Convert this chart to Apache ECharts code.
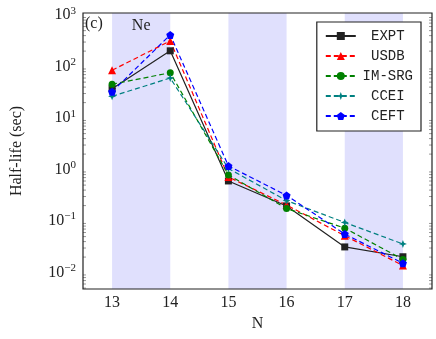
<!DOCTYPE html>
<html>
<head>
<meta charset="utf-8">
<script src="https://cdn.jsdelivr.net/npm/echarts@6/dist/echarts.min.js"></script>
<style>html,body{margin:0;padding:0;background:#fff}#c{width:436px;height:339px}</style>
</head>
<body>
<div id="c"></div>
<script>
// ---- data ----
var categories = ['13', '14', '15', '16', '17', '18'];
var expt  = [37.24, 202.8, 0.602, 0.197, 0.0315, 0.0203];
var usdb  = [85, 316, 0.72, 0.205, 0.052, 0.0137];
var imsrg = [45.5, 76, 0.79, 0.175, 0.073, 0.018];
var ccei  = [26.5, 60, 1.05, 0.25, 0.094, 0.036];
var ceft  = [32.5, 413, 1.18, 0.315, 0.056, 0.0152];
var seriesNames = ['EXPT', 'USDB', 'IM-SRG', 'CCEI', 'CEFT'];
var bands = [['13', '14', 'Ne'], ['15', '16', ''], ['17', '18', '']];
var yMin = 0.0048, yMax = 1100;

var minorVals = [];
for (var e = -3; e <= 3; e++) {
  for (var m = 2; m <= 9; m++) {
    var v = m * Math.pow(10, e);
    if (v > yMin && v < yMax) minorVals.push(v);
  }
}

function fmtY(v) {
  var ex = Math.round(Math.log10(v));
  if (Math.abs(Math.log10(v) - ex) > 1e-6) return '';
  var s = String(ex).replace('-', '\u2212');
  return '{b|10}{s|' + s + '}';
}

var serif = 'Liberation Serif';
var mono = 'Liberation Mono';
var pentagon = 'path://M50 0 L97.6 34.5 L79.4 90.5 L20.6 90.5 L2.4 34.5 Z';
var star4 = 'path://M50 0 L64 36 L100 50 L64 64 L50 100 L36 64 L0 50 L36 36 Z';

function lineSeries(name, data, color, symbol, size, dashed) {
  return {
    name: name, type: 'line', data: data, symbol: symbol, symbolSize: size,
    showAllSymbol: true,
    lineStyle: { color: color, width: 1.2, type: dashed ? [5, 3] : 'solid' },
    itemStyle: { color: color },
    emphasis: { disabled: true }, animation: false, z: 5
  };
}

var chart = echarts.init(document.getElementById('c'));
var option = {
  animation: false,
  grid: { left: 83, right: 4, top: 13, bottom: 50, show: true, borderColor: '#222', borderWidth: 1.2, backgroundColor: 'transparent', z: 10 },
  xAxis: [{
    type: 'category', data: categories, boundaryGap: true,
    name: 'N', nameLocation: 'middle', nameGap: 26,
    nameTextStyle: { fontFamily: serif, fontSize: 16, color: '#222' },
    axisLine: { show: false },
    axisTick: { inside: true, alignWithLabel: true, length: 5, lineStyle: { color: '#999' } },
    axisLabel: { fontFamily: serif, fontSize: 16, color: '#222', margin: 6 },
    splitLine: { show: false }
  }, {
    type: 'category', data: categories, boundaryGap: true, position: 'top',
    axisLine: { show: false },
    axisTick: { inside: true, alignWithLabel: true, length: 5, lineStyle: { color: '#999' } },
    axisLabel: { show: false }, splitLine: { show: false }
  }],
  yAxis: [{
    type: 'log', min: yMin, max: yMax, logBase: 10,
    name: 'Half-life (sec)', nameLocation: 'middle', nameGap: 58,
    nameTextStyle: { fontFamily: serif, fontSize: 16, color: '#222' },
    axisLine: { show: false },
    axisTick: { inside: true, length: 5, lineStyle: { color: '#777' } },
    axisLabel: {
      formatter: fmtY, margin: 7, showMinLabel: false, showMaxLabel: false,
      rich: {
        b: { fontFamily: serif, fontSize: 16, color: '#222' },
        s: { fontFamily: serif, fontSize: 11, color: '#222', verticalAlign: 'top', padding: [0, 0, 9, 0] }
      }
    },
    splitLine: { show: false }, minorTick: { show: false }
  }, {
    type: 'log', min: yMin, max: yMax, logBase: 10, position: 'right',
    axisLine: { show: false },
    axisTick: { inside: true, length: 5, lineStyle: { color: '#777' } },
    axisLabel: { show: false }, splitLine: { show: false }
  }],
  legend: {
    orient: 'vertical', right: 15, top: 22,
    data: seriesNames,
    backgroundColor: '#fff', borderColor: '#222', borderWidth: 1.2,
    padding: [7, 8, 8, 8], itemGap: 6, itemWidth: 30, itemHeight: 10,
    formatter: function (n) { return '{a|' + n + '}'; },
    textStyle: { rich: { a: { fontFamily: mono, fontSize: 14, color: '#222', width: 54, align: 'center', height: 16 } } },
    selectedMode: false, z: 20
  },
  graphic: [{
    type: 'text', left: 85, top: 16, z: 20,
    style: { text: '(c)', fontFamily: serif, fontSize: 16, fill: '#222' }
  }],
  series: [
    {
      type: 'line', data: [], silent: true, z: 1,
      markArea: {
        silent: true,
        itemStyle: { color: '#e0e0fd' },
        label: { show: true, position: 'insideTop', distance: 5, fontFamily: serif, fontSize: 16, color: '#222' },
        data: bands.map(function (b) { return [{ xAxis: b[0], name: b[2] }, { xAxis: b[1] }]; })
      }
    },
    {
      type: 'custom', silent: true, z: 8,
      data: minorVals.map(function (v) { return [0, v]; }),
      renderItem: function (params, api) {
        var cs = params.coordSys;
        var y = api.coord([0, api.value(1)])[1];
        var st = { stroke: '#999', lineWidth: 1 };
        return { type: 'group', children: [
          { type: 'line', shape: { x1: cs.x, y1: y, x2: cs.x + 3, y2: y }, style: st },
          { type: 'line', shape: { x1: cs.x + cs.width - 3, y1: y, x2: cs.x + cs.width, y2: y }, style: st }
        ] };
      }
    },
    lineSeries('EXPT', expt, '#222222', 'rect', 7, false),
    lineSeries('USDB', usdb, '#ff0000', 'triangle', 8, true),
    lineSeries('IM-SRG', imsrg, '#008000', 'circle', 7, true),
    lineSeries('CCEI', ccei, '#008080', star4, 8, true),
    lineSeries('CEFT', ceft, '#0000ff', pentagon, 8, true)
  ]
};
chart.setOption(option);
</script>
</body>
</html>
